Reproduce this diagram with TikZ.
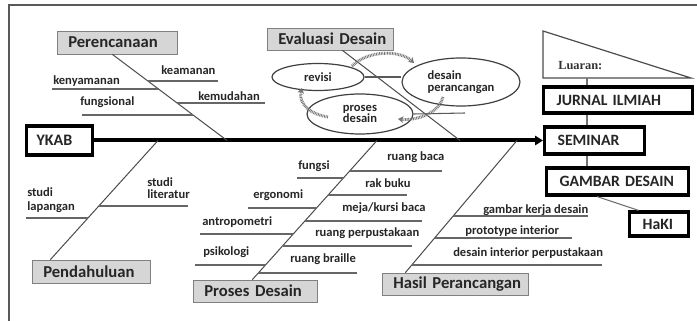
\documentclass[tikz,border=0pt]{standalone}
\usepackage{fontspec}
\usetikzlibrary{arrows.meta,shapes.geometric,calc}
\newfontfamily\calf{Carlito}
\newfontfamily\tmsf{Liberation Serif}
\newcommand\lblfont{\calf\bfseries\fontsize{9.4}{10.5}\selectfont}
\newcommand\catfont{\calf\bfseries\fontsize{12.5}{14}\selectfont}
\newcommand\outfont{\calf\bfseries\fontsize{11.8}{14}\selectfont}
\tikzset{
  lbl/.style={font=\lblfont, text=black!85, inner sep=0pt, anchor=west},
  catbox/.style={draw=black!50, fill=black!16, font=\catfont, text=black!85,
    inner xsep=8.25pt, inner ysep=0pt, align=left, anchor=west},
  outbox/.style={draw=black, line width=2.4pt, fill=white, font=\outfont, text=black!85,
    inner xsep=9.75pt, inner ysep=0pt, align=left, anchor=west},
  ell/.style={ellipse, draw=black!75, line width=0.9pt, inner sep=0pt, font=\lblfont, text=black!85},
  brline/.style={draw=black!60, line width=0.8pt},
  diag/.style={draw=black!70, line width=0.75pt},
  spine/.style={draw=black, line width=3pt, -{Triangle[length=6pt,width=7pt]}},
  cyc/.style={draw=black!55, line width=2.2pt, dash pattern=on 0.6pt off 0.6pt,
    -{Stealth[length=4pt,width=5pt]}},
  conn/.style={draw=black!55, line width=0.8pt},
}
\begin{document}
\begin{tikzpicture}[x=0.75pt,y=-0.75pt]
\fill[white] (0,0) rectangle (697,321);
\useasboundingbox (0,0) rectangle (697,321);
% frame
\draw[black!65, line width=1.5pt] (9,321) -- (9,5) -- (697,5);

% category boxes
\node[catbox, text width=73.5pt, minimum height=17.25pt] (per) at (57,42.5) {Perencanaan};
\node[catbox, text width=78pt, minimum height=16.5pt] (eva) at (267,39) {\mbox{Evaluasi Desain}};
\node[catbox, text width=72pt, minimum height=17.25pt] (pen) at (32,271.5) {Pendahuluan};
\node[catbox, text width=76.5pt, minimum height=16.5pt] (pro) at (193,291) {\mbox{Proses Desain}};
\node[catbox, text width=93pt, minimum height=16.5pt] (has) at (382,284) {\mbox{Hasil Perancangan}};

% head / output boxes
\node[outbox, text width=34.5pt, minimum height=21.75pt, inner xsep=7.5pt, font=\calf\bfseries\fontsize{12}{14}\selectfont] (ykab) at (25,140.5) {YKAB};
\node[outbox, text width=92.25pt, minimum height=19.5pt] (jur) at (542,100) {\mbox{JURNAL ILMIAH}};
\node[outbox, text width=55.5pt, minimum height=20.25pt] (sem) at (543,140.5) {SEMINAR};
\node[outbox, text width=87pt, minimum height=20.25pt] (gam) at (545,181.5) {\mbox{GAMBAR DESAIN}};
\node[outbox, text width=24.75pt, minimum height=18pt] (hak) at (628,224) {HaKI};

% triangle "Luaran"
\coordinate (tribot) at (587,78);
\draw[draw=black!70, line width=0.9pt] (543,31) -- (543,78) -- (691,78) -- cycle;
\node[font=\tmsf\bfseries\fontsize{9.3}{11}\selectfont, text=black!80, inner sep=0pt, anchor=west] (lua) at (558,66) {Luaran:};

% vertical connectors on the right
\draw[conn] (tribot) -- (tribot |- jur.north);
\draw[conn] (jur.south -| tribot) -- (sem.north -| tribot);
\draw[conn] (sem.south -| tribot) -- (gam.north -| tribot);
\draw[conn] ($(gam.south)+(-20.5,0)$) -- ($(hak.north)+(-20.5,0)$);

% spine
\draw[spine] (ykab.east) -- (sem.west);

% spine junctions
\coordinate (sPer) at (227,140.5);
\coordinate (sEva) at (460,140.5);
\coordinate (sPen) at (158,140.5);
\coordinate (sPro) at (377,140.5);
\coordinate (sHas) at (517,140.5);

% diagonals
\draw[diag] ([xshift=-3.75pt]per.south) -- (sPer);
\draw[diag] ([xshift=9pt]eva.south) -- (sEva);
\draw[diag] ([xshift=-30.75pt]pen.north) -- (sPen);
\draw[diag] ([xshift=-2.25pt]pro.north) -- (sPro);
\draw[diag] ([xshift=-37.5pt]has.north) -- (sHas);

% Perencanaan branches
\node[lbl] (kea) at (161,70) {keamanan};
\draw[brline] (148,81) -- (218,81);
\node[lbl] (ken) at (53,81) {kenyamanan};
\draw[brline] (52,89) -- (158.5,89);
\node[lbl] (kem) at (198,96) {kemudahan};
\draw[brline] (177,103) -- (265,103);
\node[lbl] (fun) at (80,102) {fungsional};
\draw[brline] (82,115) -- (193,115);

% Pendahuluan branches
\node[lbl, align=left] (stl) at (27,200) {studi\\lapangan};
\draw[brline] (26,218) -- (88,218);
\node[lbl, align=left, font=\calf\bfseries\fontsize{9.4}{9}\selectfont] (stt) at (147,188) {studi\\literatur};
\draw[brline] (99,206) -- (188,206);

% Proses Desain branches (left)
\node[lbl] (fgs) at (298,166) {fungsi};
\draw[brline] (297,178) -- (343.4,178);
\node[lbl] (erg) at (253,195) {ergonomi};
\draw[brline] (248,208) -- (316.5,208);
\node[lbl] (ant) at (202,222) {antropometri};
\draw[brline] (200,234) -- (293.2,234);
\node[lbl] (psi) at (203,252) {psikologi};
\draw[brline] (195,265) -- (265.4,265);
% Proses Desain branches (right)
\node[lbl] (rba) at (387,157) {ruang baca};
\draw[brline] (349.7,171) -- (442,171);
\node[lbl] (rak) at (365,183) {rak buku};
\draw[brline] (328.2,195) -- (407,195);
\node[lbl] (mej) at (342,208) {meja/kursi baca};
\draw[brline] (304.9,221) -- (422,221);
\node[lbl] (rpe) at (315,233) {ruang perpustakaan};
\draw[brline] (282.5,246) -- (412,246);
\node[lbl] (rbr) at (290,259) {ruang braille};
\draw[brline] (258.3,273) -- (357,273);

% Hasil Perancangan branches
\node[lbl] (gkd) at (483,210) {gambar kerja desain};
\draw[brline] (453.2,216) -- (588,216);
\node[lbl] (pti) at (465,231) {prototype interior};
\draw[brline] (434.6,238) -- (572,238);
\node[lbl] (dip) at (453,253) {desain interior perpustakaan};
\draw[brline] (411.8,265) -- (602,265);

% Evaluasi Desain cycle
\node[ell, minimum width=69pt, minimum height=20.25pt] (rev) at (318,77) {revisi};
\node[ell, minimum width=88.5pt, minimum height=36pt, align=left, font=\calf\bfseries\fontsize{9.4}{9}\selectfont] (dpr) at (461,82) {desain\\perancangan};
\node[ell, minimum width=79.5pt, minimum height=30pt, align=center, font=\calf\bfseries\fontsize{9.4}{8.5}\selectfont] (pds) at (360,114) {proses\\desain};
\coordinate (pdend) at (465,113);
\draw[conn, draw=black!65] (rev.east) -- (rev.east -| dpr.west);
\draw[conn, draw=black!65] (pds.east) -- (pdend);
\draw[cyc] (352,66) .. controls (368,50) and (400,50) .. (414,63);
\draw[cyc] (443,97) .. controls (440,112) and (418,121) .. (398,119);
\draw[cyc] (328,117) .. controls (310,114) and (298,104) .. (302,88);
\end{tikzpicture}
\end{document}
